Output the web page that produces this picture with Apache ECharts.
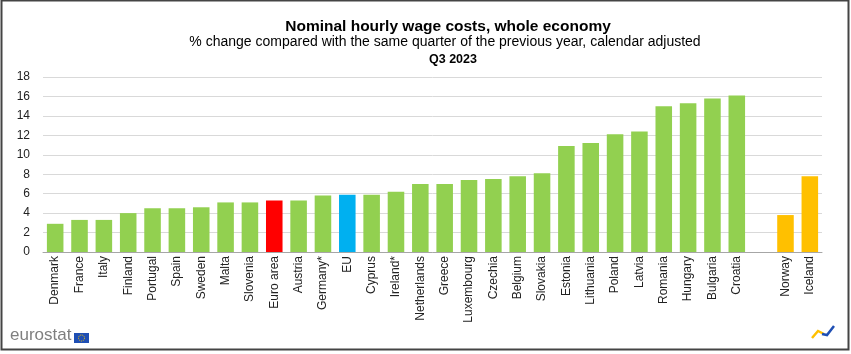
<!DOCTYPE html>
<html>
<head>
<meta charset="utf-8">
<script src="https://cdn.jsdelivr.net/npm/echarts@6/dist/echarts.min.js"></script>
<style>
  html, body { margin: 0; padding: 0; background: #fff; }
  #chart { width: 851px; height: 354px; }
</style>
</head>
<body>
<div id="chart"></div>
<script>
// countries, sorted; empty slot separates EU from non-EU
const categories = [
  'Denmark', 'France', 'Italy', 'Finland', 'Portugal', 'Spain', 'Sweden', 'Malta',
  'Slovenia', 'Euro area', 'Austria', 'Germany*', 'EU', 'Cyprus', 'Ireland*',
  'Netherlands', 'Greece', 'Luxembourg', 'Czechia', 'Belgium', 'Slovakia', 'Estonia',
  'Lithuania', 'Poland', 'Latvia', 'Romania', 'Hungary', 'Bulgaria', 'Croatia',
  '', 'Norway', 'Iceland'
]
const values = [
  2.9, 3.3, 3.3, 4.0, 4.5, 4.5, 4.6, 5.1,
  5.1, 5.3, 5.3, 5.8, 5.9, 5.9, 6.2,
  7.0, 7.0, 7.4, 7.5, 7.8, 8.1, 10.9,
  11.2, 12.1, 12.4, 15.0, 15.3, 15.8, 16.1,
  null, 3.8, 7.8
]
const yTicks = [0, 2, 4, 6, 8, 10, 12, 14, 16, 18]

const font = 'Liberation Sans, Arial, sans-serif'

function barColor(name) {
  if (name === 'Euro area') return '#ff0000'
  if (name === 'EU') return '#00b0f0'
  if (name === 'Norway' || name === 'Iceland') return '#ffc000'
  return '#92d050'
}

const chart = echarts.init(document.getElementById('chart'))
chart.setOption({
  backgroundColor: '#fff',
  animation: false,
  title: [{
    text: 'Nominal hourly wage costs, whole economy',
    left: 443, top: 14, textAlign: 'center',
    textStyle: { fontFamily: font, fontSize: 15.5, fontWeight: 'bold', color: '#000' }
  }, {
    text: '% change compared with the same quarter of the previous year, calendar adjusted',
    left: 440, top: 30, textAlign: 'center',
    textStyle: { fontFamily: font, fontSize: 14, fontWeight: 'normal', color: '#000' }
  }, {
    text: 'Q3 2023',
    left: 448, top: 48, textAlign: 'center',
    textStyle: { fontFamily: font, fontSize: 12.5, fontWeight: 'bold', color: '#000' }
  }],
  grid: { left: 43, right: 29, top: 77, bottom: 102 },
  xAxis: {
    type: 'category',
    data: categories,
    axisLine: { lineStyle: { color: '#a6a6a6', width: 1 } },
    axisTick: { show: false },
    axisLabel: {
      interval: 0, rotate: 90, margin: 4,
      fontFamily: font, fontSize: 12, color: '#222'
    }
  },
  yAxis: {
    type: 'value',
    min: yTicks[0],
    max: yTicks[yTicks.length - 1],
    interval: 2,
    axisLine: { show: false },
    axisTick: { show: false },
    axisLabel: { fontFamily: font, fontSize: 12, color: '#222', margin: 13 },
    splitLine: { lineStyle: { color: '#d9d9d9', width: 1 } }
  },
  series: [{
    type: 'bar',
    barWidth: '68%',
    data: values.map((v, i) => ({
      value: v === null ? '-' : v,
      itemStyle: { color: barColor(categories[i]) }
    }))
  }],
  graphic: [
    {
      type: 'rect', silent: true,
      shape: { x: 1.5, y: 0.5, width: 847, height: 349 },
      style: { fill: 'none', stroke: '#444', lineWidth: 2 }
    },
    {
      type: 'text', left: 10, top: 327,
      style: { text: 'eurostat', fontFamily: font, fontSize: 17, fill: '#7f7f7f' }
    },
    {
      type: 'rect', silent: true,
      shape: { x: 74, y: 333, width: 15, height: 10 },
      style: { fill: '#1f4fb4' }
    },
    {
      type: 'circle', silent: true,
      shape: { cx: 81.5, cy: 338, r: 3 },
      style: { fill: 'none', stroke: '#ffcc00', lineWidth: 1, lineDash: [1, 1] }
    },
    {
      type: 'polyline', silent: true,
      shape: { points: [[812, 338], [818, 331], [824, 334]] },
      style: { stroke: '#ffc000', lineWidth: 2.5, fill: 'none' }
    },
    {
      type: 'polyline', silent: true,
      shape: { points: [[822, 334], [827, 335], [834, 326]] },
      style: { stroke: '#1f4fb4', lineWidth: 2.5, fill: 'none' }
    }
  ]
})
</script>
</body>
</html>
